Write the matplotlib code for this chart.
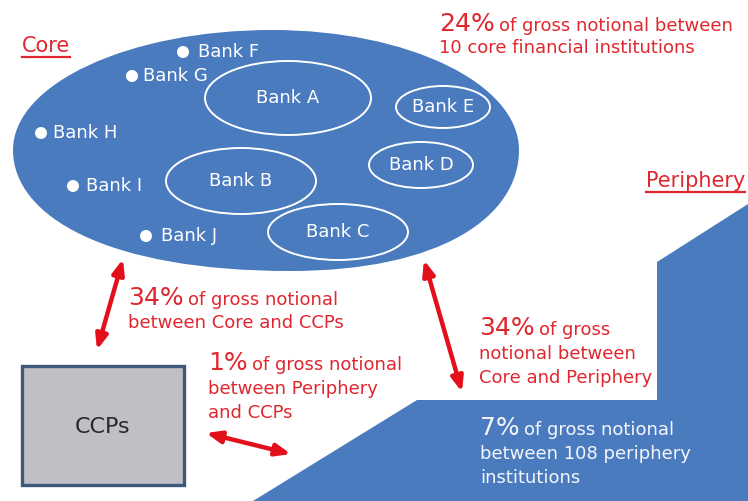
import matplotlib
matplotlib.use("Agg")
import matplotlib.pyplot as plt
from matplotlib.patches import Ellipse, Polygon, Rectangle, Circle, PathPatch
from matplotlib.path import Path

# ---- content ----
big_banks = ["Bank A", "Bank B", "Bank C", "Bank D", "Bank E"]
small_banks = ["Bank F", "Bank G", "Bank H", "Bank I", "Bank J"]
shares = ["24%", "34%", "1%", "34%", "7%"]
notes = [
    ["of gross notional between", "10 core financial institutions"],
    ["of gross notional", "between Core and CCPs"],
    ["of gross notional", "between Periphery", "and CCPs"],
    ["of gross", "notional between", "Core and Periphery"],
    ["of gross notional", "between 108 periphery", "institutions"],
]
group_labels = ["Core", "Periphery", "CCPs"]

# ---- layout (pixel coordinates of the 748x501 canvas) ----
big_bank_xy = [(288, 98), (241, 181), (338, 232), (421, 165), (443, 107)]
big_bank_wh = [(166, 74), (150, 66), (140, 56), (104, 46), (94, 42)]
dot_xy = [(183, 52), (132, 76), (41, 133), (73, 186), (146, 236)]
label_dx = [15, 11, 12, 13, 15]
note_xy = [(439, 31), (128, 305), (208, 370), (479, 335), (480, 435)]
note_gap = [22, 23, 24, 24, 24]
arrows = [((123, 259), (97, 350)), ((424, 260), (462, 392)), ((206, 433), (291, 454))]

BLUE = "#4a7bbf"
RED = "#e0262f"
ARROW_RED = "#e3101b"
WHITE = "#ffffff"
note_color = [RED, RED, RED, RED, "#f4f6fb"]

plt.rcParams["font.family"] = ["DejaVu Sans"]

fig = plt.figure(figsize=(7.48, 5.01), dpi=100)
ax = fig.add_axes([0, 0, 1, 1])
ax.set_xlim(0, 748)
ax.set_ylim(501, 0)
ax.axis("off")

# periphery block
ax.add_patch(Polygon([(748, 204), (657, 262), (657, 400), (417, 400),
                      (253, 501), (748, 501)], closed=True,
                     facecolor=BLUE, edgecolor="none"))

# core blob: ellipse on top, fuller curve underneath
k = 0.5523
left, right, top, bottom, mid_y = 13, 519, 30, 271, 150
top_x, bot_x = 272, 290
verts = [
    (left, mid_y),
    (left, mid_y + (bottom - mid_y) * 0.55), (bot_x - (bot_x - left) * 0.66, bottom), (bot_x, bottom),
    (bot_x + (right - bot_x) * 0.66, bottom), (right, mid_y + (bottom - mid_y) * 0.55), (right, mid_y),
    (right, mid_y - (mid_y - top) * k), (top_x + (right - top_x) * k, top), (top_x, top),
    (top_x - (top_x - left) * k, top), (left, mid_y - (mid_y - top) * k), (left, mid_y),
]
codes = [Path.MOVETO] + [Path.CURVE4] * 12
ax.add_patch(PathPatch(Path(verts, codes), facecolor=BLUE, edgecolor="none"))

for name, (x, y), (w, h) in zip(big_banks, big_bank_xy, big_bank_wh):
    ax.add_patch(Ellipse((x, y), w, h, facecolor="none", edgecolor=WHITE, lw=1.4))
    ax.text(x, y, name, color=WHITE, fontsize=13, ha="center", va="center")

for name, (x, y), dx in zip(small_banks, dot_xy, label_dx):
    ax.add_patch(Circle((x, y), 6, facecolor=WHITE, edgecolor="none"))
    ax.text(x + dx, y, name, color=WHITE, fontsize=13, ha="left", va="center")

# CCP box
ax.add_patch(Rectangle((22, 366), 162, 119, facecolor="#c0c0c4",
                       edgecolor="#3d5878", lw=2.4))
ax.text(103, 427, group_labels[2], color="#2a2a2a", fontsize=16,
        ha="center", va="center")

# underlined group titles
core_t = ax.text(22, 52, group_labels[0], color=RED, fontsize=15, va="baseline")
peri_t = ax.text(646, 187, group_labels[1], color=RED, fontsize=15, va="baseline")

# arrows
for (p0, p1) in arrows:
    ax.annotate("", xy=p1, xytext=p0,
                arrowprops=dict(arrowstyle="<|-|>,head_length=0.55,head_width=0.22",
                                color=ARROW_RED, lw=3.2,
                                mutation_scale=16, shrinkA=0, shrinkB=0))

# percentage notes
fig.canvas.draw()
renderer = fig.canvas.get_renderer()
inv = ax.transData.inverted()

for t in (core_t, peri_t):
    bb = t.get_window_extent(renderer).transformed(inv)
    y0 = t.get_position()[1] + 5
    ax.plot([bb.x0, bb.x1], [y0, y0], color=RED, lw=1.6)

for share, lines, (x, y), gap, col in zip(shares, notes, note_xy, note_gap, note_color):
    st = ax.text(x, y, share, color=col, fontsize=18, va="baseline")
    bb = st.get_window_extent(renderer).transformed(inv)
    ax.text(bb.x1 + 4, y, lines[0], color=col, fontsize=13, va="baseline")
    for j, line in enumerate(lines[1:], start=1):
        ax.text(x, y + j * gap, line, color=col, fontsize=13, va="baseline")

fig.savefig("out.png", dpi=100)
